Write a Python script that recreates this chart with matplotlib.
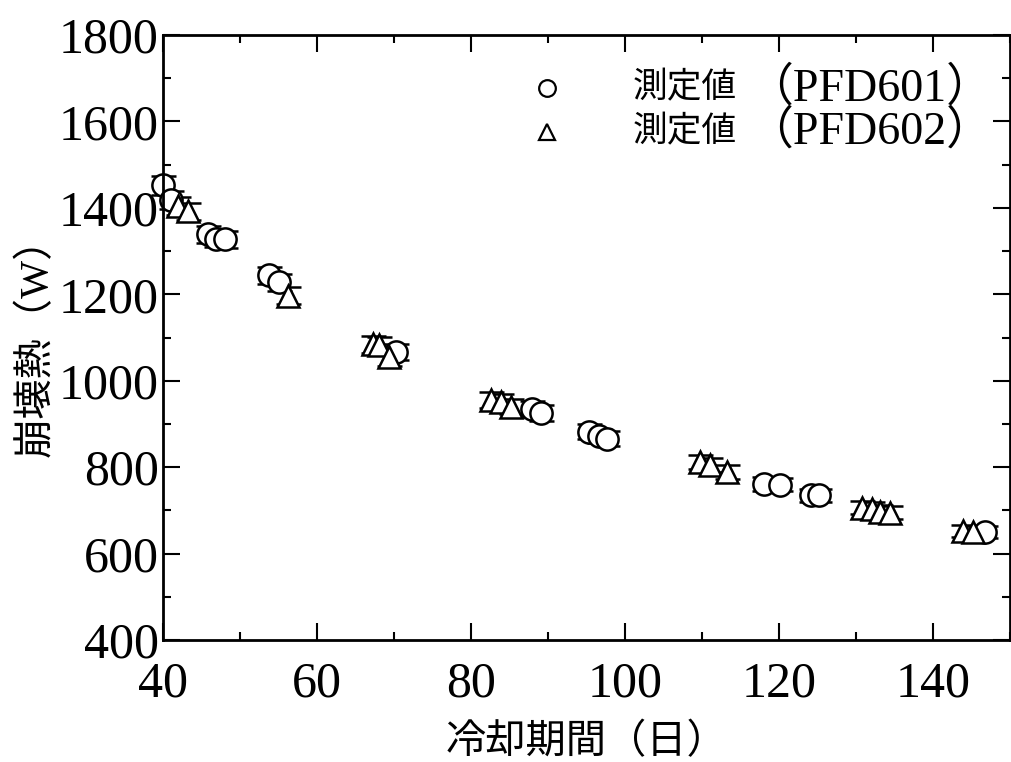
import matplotlib
matplotlib.use("Agg")
import matplotlib.pyplot as plt
from matplotlib.ticker import MultipleLocator

plt.rcParams['font.family'] = ['Liberation Serif', 'Noto Sans CJK JP', 'DejaVu Sans']

# PFD601 (circles)
days_601 = [40.0, 41.0, 45.9, 46.9, 48.1, 53.8, 55.1, 70.3, 87.9, 89.1,
            95.3, 96.6, 97.7, 118.1, 120.1, 124.2, 125.2, 146.8]
heat_601 = [1452, 1418, 1339, 1329, 1327, 1244, 1228, 1066, 935, 925,
            882, 872, 866, 762, 760, 735, 735, 650]
err_601 = [21, 20, 20, 20, 20, 20, 20, 19, 18, 18,
           17, 17, 17, 16, 16, 15, 15, 14]

# PFD602 (triangles)
days_602 = [42.0, 43.2, 56.3, 67.3, 68.1, 69.3, 82.6, 83.9, 85.2,
            109.7, 111.0, 113.2, 130.8, 132.1, 133.1, 134.4, 143.9, 145.2]
heat_602 = [1405, 1392, 1197, 1084, 1082, 1054, 956, 952, 940,
            813, 806, 789, 706, 704, 697, 695, 652, 650]
err_602 = [21, 20, 20, 19, 19, 19, 18, 18, 18,
           16, 16, 16, 15, 15, 15, 15, 14, 14]

label_head = '測定値'
label_tails = ['（PFD601）', '（PFD602）']

fig = plt.figure(figsize=(10.12, 7.62), dpi=100)
ax = fig.add_axes([0.161, 0.160, 0.837, 0.794])

common = dict(ls='none', mfc='white', mec='black', mew=1.8, ecolor='black',
              elinewidth=1.6, capsize=9, capthick=2.0, ms=16, clip_on=False)
ax.errorbar(days_601, heat_601, yerr=err_601, marker='o', **common)
ax.errorbar(days_602, heat_602, yerr=err_602, marker='^', **common)

ax.set_xlim(40, 150)
ax.set_ylim(400, 1800)
ax.xaxis.set_major_locator(MultipleLocator(20))
ax.xaxis.set_minor_locator(MultipleLocator(10))
ax.yaxis.set_major_locator(MultipleLocator(200))
ax.yaxis.set_minor_locator(MultipleLocator(100))
ax.tick_params(which='both', direction='in', top=True, right=True, width=1.5)
ax.tick_params(which='major', length=12, labelsize=36)
ax.tick_params(axis='x', which='major', pad=15)
ax.tick_params(axis='y', which='major', pad=3)
ax.tick_params(which='minor', length=6)
for s in ax.spines.values():
    s.set_linewidth(2)

ax.set_xlabel('冷却期間（日）', fontsize=29, labelpad=12)
ax.set_ylabel('崩壊熱（W）', fontsize=29, labelpad=2)

# hand-built legend: CJK part smaller than the serif part, as in the figure
for marker, tail, yy in zip(['o', '^'], label_tails, [0.912, 0.840]):
    ax.plot([0.453], [yy], marker=marker, ls='none', mfc='white', mec='black',
            mew=1.6, ms=12, transform=ax.transAxes, clip_on=False)
    t1 = ax.text(0.554, yy, label_head, transform=ax.transAxes, fontsize=25,
                 family='Noto Sans CJK JP', va='center', ha='left')
    ax.annotate(tail, xy=(1.0, 0.5), xycoords=t1, xytext=(8, 0),
                textcoords='offset points', fontsize=33,
                va='center', ha='left')

fig.savefig('out.png', dpi=100)
